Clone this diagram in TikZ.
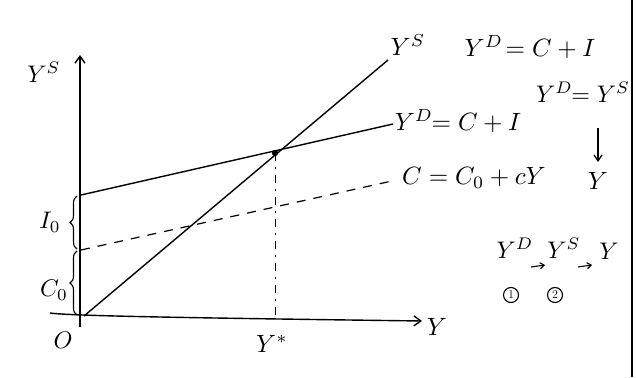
\documentclass[tikz,border=0pt]{standalone}
\usetikzlibrary{decorations.pathreplacing,arrows.meta}
\newcommand{\LblA}[1]{\scalebox{2.5}{$#1$}}
\newcommand{\LblB}[1]{\scalebox{2.4}{$#1$}}
\begin{document}
\begin{tikzpicture}[x=1pt,y=-1pt,line width=1.4pt,
  lbl/.style={inner sep=0pt},
  axisarrow/.style={-{Straight Barb[length=7pt,width=10pt]}},
  smallarrow/.style={-{Straight Barb[length=4pt,width=6pt]},line width=1.1pt},
  dashline/.style={line width=1.2pt,dash pattern=on 9pt off 8pt},
  vdash/.style={line width=0.9pt,dash pattern=on 8pt off 6pt on 2pt off 6pt},
  brc/.style={decorate,decoration={brace,amplitude=7pt},line width=1.1pt},
  circnum/.style={draw,circle,line width=1.1pt,inner sep=0pt,minimum size=15pt,font=\fontsize{12}{13}\selectfont}]
\useasboundingbox (0,0) rectangle (636,377);
\fill[white] (0,0) rectangle (636,377);
% frame line on the right
\draw[line width=1.6pt] (632,0) -- (632,377);
% axes
\coordinate (ybot) at (80,327);
\coordinate (ytop) at (80,55);
\coordinate (xbeg) at (50,313);
\coordinate (xend) at (422,321);
\coordinate (O) at (84,316);
\draw[axisarrow] (ybot) -- (ytop);
\draw[axisarrow] (xbeg) .. controls (70,316) and (200,318) .. (xend);
% lines
\coordinate (ysEnd) at (388,60);
\coordinate (ydBeg) at (81,195);
\coordinate (ydEnd) at (393,124);
\coordinate (cBeg) at (81,250);
\coordinate (cEnd) at (392,181);
\coordinate (E) at (275,153);
\coordinate (Ex) at (275,320);
\draw (O) -- (ysEnd);
\draw (ydBeg) -- (ydEnd);
\draw[dashline] (cBeg) -- (cEnd);
\draw[vdash] (E) -- (Ex);
\fill (E) circle (3.2pt);
% braces
\draw[brc] (77,249) -- (77,196);
\draw[brc] (77,315) -- (77,251);
% axis labels
\node[lbl] (lys) at (44,72) {\LblB{Y^{S}}};
\node[lbl] (lo) at (63,340) {\LblB{O}};
\node[lbl] (li) at (50,222) {\LblB{I_0}};
\node[lbl] (lc) at (54,290) {\LblB{C_0}};
\node[lbl] (lystar) at (272,344) {\LblA{Y^{*}}};
\node[lbl] (lx) at (437,327) {\LblA{Y}};
% line labels
\node[lbl] (lsline) at (408,45) {\LblA{Y^{S}}};
\node[lbl] (ltop) at (530,47) {\LblA{Y^{D}\!=C+I}};
\node[lbl] (ldline) at (458,121) {\LblA{Y^{D}\!\!=C+I}};
\node[lbl] (lcline) at (474,178) {\LblA{C=C_0+cY}};
% right-hand notes
\node[lbl] (leq) at (583,92) {\LblB{Y^{D}\!\!=Y^{S}}};
\node[lbl] (lY) at (598,181) {\LblA{Y}};
\draw[-{Straight Barb[length=6pt,width=8pt]},line width=1.2pt] (598,128) -- (598,162);
\node[lbl] (s1) at (515,248) {\LblB{Y^{D}}};
\node[lbl] (s2) at (564,248) {\LblB{Y^{S}}};
\node[lbl] (s3) at (609,251) {\LblB{Y}};
\coordinate (a1s) at (531,267);
\coordinate (a1e) at (545,265);
\coordinate (a2s) at (578,267);
\coordinate (a2e) at (592,265);
\draw[smallarrow] (a1s) -- (a1e);
\draw[smallarrow] (a2s) -- (a2e);
\node[circnum] (c1) at (511,295) {1};
\node[circnum] (c2) at (555,295) {2};
\end{tikzpicture}
\end{document}
